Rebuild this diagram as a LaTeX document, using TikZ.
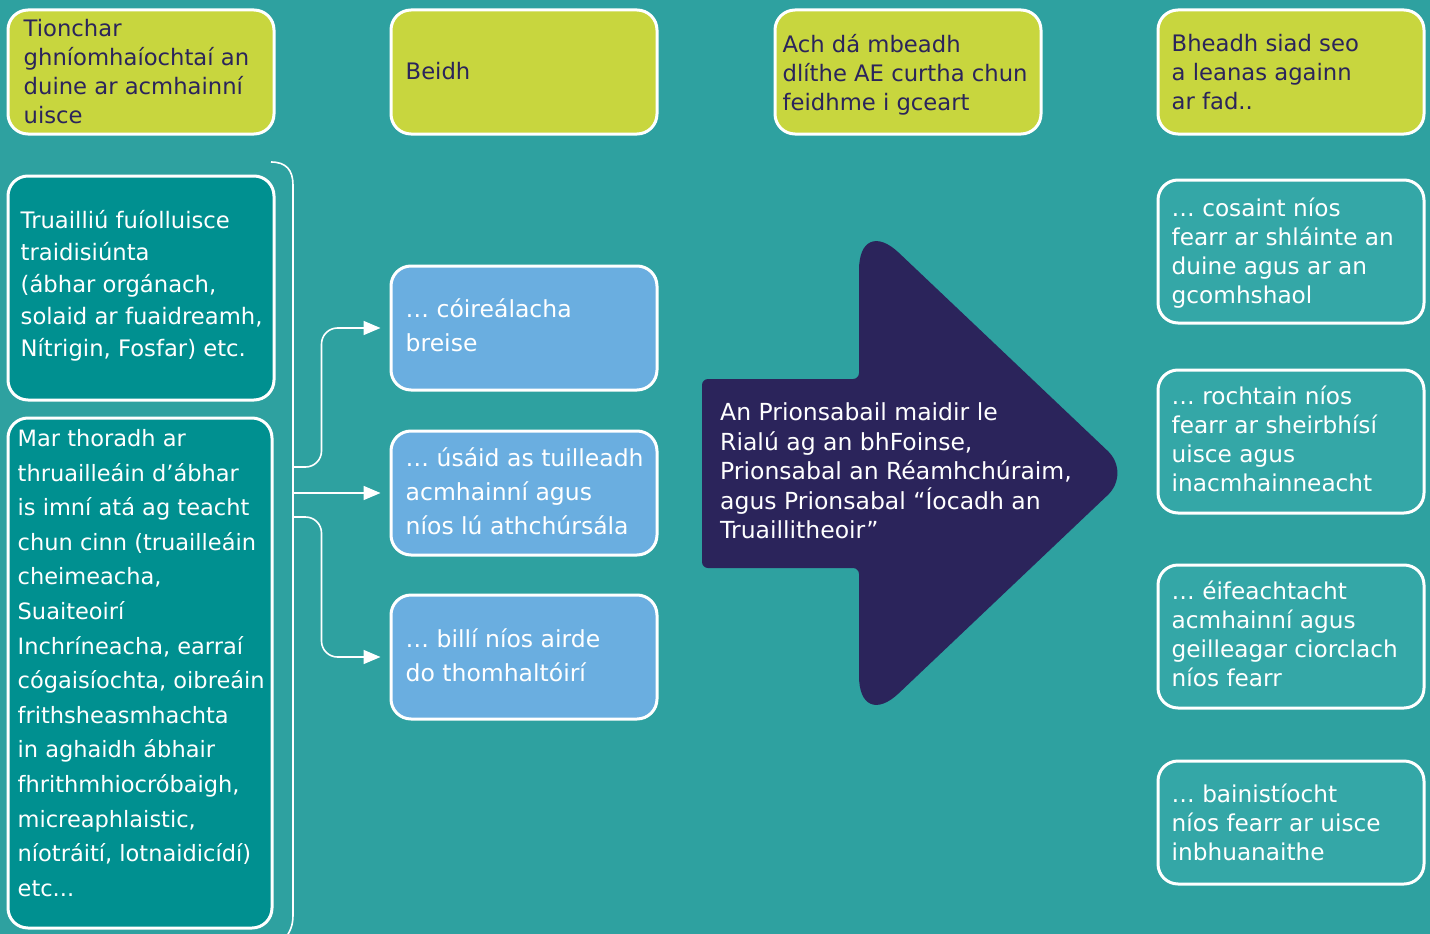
\documentclass[tikz,border=0pt]{standalone}
\usepackage{fontspec}
\setmainfont{DejaVu Sans}
\usetikzlibrary{arrows.meta,calc}
\definecolor{bg}{RGB}{46,161,160}
\definecolor{lime}{RGB}{200,214,62}
\definecolor{deepteal}{RGB}{0,144,144}
\definecolor{skyblue}{RGB}{106,174,224}
\definecolor{lightteal}{RGB}{52,167,167}
\definecolor{navy}{RGB}{43,36,91}
\newcommand\mybox[6]{\node[boxshape, fill=#6, minimum width={#4-#2}, minimum height={#5-#3}] (#1) at ({(#2+#4)/2},{(#3+#5)/2}) {};}
\begin{document}
\begin{tikzpicture}[x=1pt,y=-1pt,
  boxshape/.style={draw=white, line width=3pt, rounded corners=20pt, inner sep=0pt},
  txt/.style={anchor=west, align=left, inner sep=0pt, font=\fontsize{22.7}{29}\selectfont},
  toptxt/.style={txt, text=navy},
  whitetxt/.style={txt, text=white},
  conn/.style={draw=white, line width=1.6pt, -{Triangle[length=17pt,width=14pt]}, shorten >=9pt},
  bracket/.style={draw=white, line width=1.6pt}]
\fill[bg] (0,0) rectangle (1430,934);
\useasboundingbox (0,0) rectangle (1430,934);

% top row
\mybox{t1}{8}{10}{274}{134}{lime}
\mybox{t2}{391}{10}{657}{134}{lime}
\mybox{t3}{775}{10}{1041}{134}{lime}
\mybox{t4}{1158}{10}{1424}{134}{lime}
\node[toptxt] (t1t) at ([xshift=17pt]t1.west) {Tionchar\\ghníomhaíochtaí an\\duine ar acmhainní\\uisce};
\node[toptxt] (t2t) at ([xshift=16pt,yshift=1pt]t2.west) {Beidh};
\node[toptxt] (t3t) at ([xshift=9pt,yshift=-3pt]t3.west) {Ach dá mbeadh\\dlíthe AE curtha chun\\feidhme i gceart};
\node[toptxt] (t4t) at ([xshift=15pt]t4.west) {Bheadh siad seo\\a leanas againn\\ar fad..};

% left column
\mybox{l1}{8}{176}{274}{400}{deepteal}
\mybox{l2}{8}{418}{272}{928}{deepteal}
\node[whitetxt, font=\fontsize{22.7}{32}\selectfont] (l1t) at ([xshift=14pt,yshift=2pt]l1.west) {Truailliú fuíolluisce\\traidisiúnta\\(ábhar orgánach,\\solaid ar fuaidreamh,\\Nítrigin, Fosfar) etc.};
\node[whitetxt, font=\fontsize{22.5}{34.6}\selectfont] (l2t) at ([xshift=11pt,yshift=10pt]l2.west) {Mar thoradh ar\\thruailleáin d’ábhar\\is imní atá ag teacht\\chun cinn (truailleáin\\cheimeacha,\\Suaiteoirí\\Inchríneacha, earraí\\cógaisíochta, oibreáin\\frithsheasmhachta\\in aghaidh ábhair\\fhrithmhiocróbaigh,\\micreaphlaistic,\\níotráití, lotnaidicídí)\\etc...};

% middle column
\mybox{b1}{391}{266}{657}{390}{skyblue}
\mybox{b2}{391}{431}{657}{555}{skyblue}
\mybox{b3}{391}{595}{657}{719}{skyblue}
\node[whitetxt, font=\fontsize{23.5}{34}\selectfont] (b1t) at ([xshift=16pt,yshift=3pt]b1.west) {… cóireálacha\\breise};
\node[whitetxt, font=\fontsize{23.5}{34}\selectfont] (b2t) at ([xshift=16pt,yshift=2pt]b2.west) {… úsáid as tuilleadh\\acmhainní agus\\níos lú athchúrsála};
\node[whitetxt, font=\fontsize{23.5}{34}\selectfont] (b3t) at ([xshift=16pt,yshift=2pt]b3.west) {… billí níos airde\\do thomhaltóirí};

% right column
\mybox{r1}{1158}{180}{1424}{323}{lightteal}
\mybox{r2}{1158}{370}{1424}{513}{lightteal}
\mybox{r3}{1158}{565}{1424}{708}{lightteal}
\mybox{r4}{1158}{761}{1424}{884}{lightteal}
\node[whitetxt, font=\fontsize{23.2}{29}\selectfont] (r1t) at ([xshift=15pt,yshift=-2pt]r1.west) {… cosaint níos\\fearr ar shláinte an\\duine agus ar an\\gcomhshaol};
\node[whitetxt, font=\fontsize{23.2}{29}\selectfont] (r2t) at ([xshift=15pt,yshift=3pt]r2.west) {… rochtain níos\\fearr ar sheirbhísí\\uisce agus\\inacmhainneacht};
\node[whitetxt, font=\fontsize{23.2}{29}\selectfont] (r3t) at ([xshift=15pt,yshift=3pt]r3.west) {… éifeachtacht\\acmhainní agus\\geilleagar ciorclach\\níos fearr};
\node[whitetxt, font=\fontsize{23.2}{29}\selectfont] (r4t) at ([xshift=15pt]r4.west) {… bainistíocht\\níos fearr ar uisce\\inbhuanaithe};

% big arrow
\fill[navy, rounded corners=6pt] (702,379) -- (859,379) [rounded corners=55pt] -- (859,215) [rounded corners=32pt] -- (1131,473) [rounded corners=55pt] -- (859,731) [rounded corners=6pt] -- (859,568) -- (702,568) -- cycle;
\node[whitetxt, font=\fontsize{23.5}{29.5}\selectfont] (at) at (720,471) {An Prionsabail maidir le\\Rialú ag an bhFoinse,\\Prionsabal an Réamhchúraim,\\agus Prionsabal “Íocadh an\\Truaillitheoir”};

% bracket
\draw[bracket] (271,162) .. controls (286,162) and (293,170) .. (293,185) -- (293,915) .. controls (293,926) and (290,932) .. (284,940);
\coordinate (s1) at (293,467);
\coordinate (s2) at (293,493);
\coordinate (s3) at (293,517);

% connectors
\draw[conn, rounded corners=16pt] (s1) -| ([xshift=-68pt]b1.west) -- (b1.west);
\draw[conn] (s2) -- (s2 -| b2.west);
\draw[conn, rounded corners=16pt] (s3) -| ([xshift=-68pt]b3.west) -- (b3.west);
\end{tikzpicture}
\end{document}
